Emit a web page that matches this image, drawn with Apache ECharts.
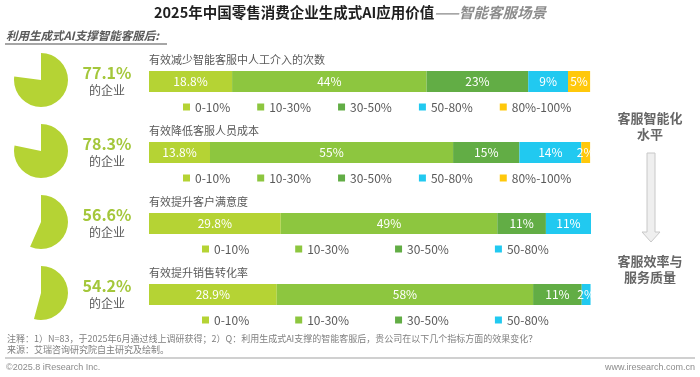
<!DOCTYPE html>
<html>
<head>
<meta charset="utf-8">
<script src="https://cdn.jsdelivr.net/npm/echarts@6/dist/echarts.min.js"></script>
<style>
html,body{margin:0;padding:0;background:#fff;}
#main{width:700px;height:377px;}
</style>
</head>
<body>
<div id="main"></div>
<script>
// 企业占比（饼图）
var pieValues = [77.1, 78.3, 56.6, 54.2];
// 各指标标题
var rowTitles = ['有效减少智能客服中人工介入的次数', '有效降低客服人员成本', '有效提升客户满意度', '有效提升销售转化率'];
// 效果区间
var bands = ['0-10%', '10-30%', '30-50%', '50-80%', '80%-100%'];
var bandColors = ['#b5d334', '#8dc63f', '#62ad45', '#21c9f0', '#ffc80b'];
// 各指标区间占比
var row1 = [18.8, 44, 23, 9, 5];
var row2 = [13.8, 55, 15, 14, 2];
var row3 = [29.8, 49, 11, 11];
var row4 = [28.9, 58, 11, 2];
var rows = [row1, row2, row3, row4];

(function () {
var FONT = "'Noto Sans CJK SC', 'Microsoft YaHei', sans-serif";
var myChart = echarts.init(document.getElementById('main'));

var grids = [], xAxes = [], yAxes = [], series = [], legends = [], graphics = [];

for (var r = 0; r < rows.length; r++) {
    var rowTop = 71 + r * 71;
    grids.push({left: 149, width: 442, top: rowTop, height: 21});
    xAxes.push({gridIndex: r, type: 'value', min: 0, max: 100, show: false});
    yAxes.push({gridIndex: r, type: 'category', data: [''], show: false});

    for (var b = 0; b < rows[r].length; b++) {
        series.push({
            name: bands[b],
            type: 'bar',
            stack: 's' + r,
            xAxisIndex: r,
            yAxisIndex: r,
            barWidth: '100%',
            silent: true,
            data: [rows[r][b]],
            itemStyle: {color: bandColors[b]},
            label: {
                show: true,
                position: 'inside',
                color: '#fff',
                fontSize: 12,
                fontFamily: FONT,
                formatter: '{c}%'
            }
        });
    }

    // 图例
    var n = rows[r].length;
    legends.push({
        data: bands.slice(0, n),
        left: n == 5 ? 183 : 202,
        top: rowTop + 29,
        padding: 0,
        itemWidth: 7,
        itemHeight: 7,
        itemGap: n == 5 ? 27 : 46,
        icon: 'rect',
        selectedMode: false,
        textStyle: {color: '#595959', fontSize: 12, fontFamily: FONT, lineHeight: 14}
    });

    // 指标标题
    graphics.push({
        type: 'text', left: 149, top: rowTop - 17,
        style: {text: rowTitles[r], fill: '#595959', font: '11px ' + FONT}
    });

    // 饼图
    series.push({
        type: 'pie',
        center: [41, 80 + r * 71],
        radius: 27,
        startAngle: 90,
        clockwise: true,
        silent: true,
        label: {show: false},
        labelLine: {show: false},
        data: [
            {value: pieValues[r], itemStyle: {color: '#b5d334'}},
            {value: 100 - pieValues[r], itemStyle: {color: 'rgba(0,0,0,0)'}}
        ]
    });

    graphics.push({
        type: 'text', x: 107, y: 73 + r * 71,
        style: {text: pieValues[r] + '%', fill: '#a4c73b', font: 'bold 16px ' + FONT, textAlign: 'center', textVerticalAlign: 'middle'}
    });
    graphics.push({
        type: 'text', x: 107, y: 90 + r * 71,
        style: {text: '的企业', fill: '#595959', font: '12px ' + FONT, textAlign: 'center', textVerticalAlign: 'middle'}
    });
}

// 副标题
graphics.push({
    type: 'text', x: 6, y: 36,
    style: {text: '利用生成式AI支撑智能客服后:', fill: '#595959', font: 'italic bold 11.5px ' + FONT, textVerticalAlign: 'middle'}
});
graphics.push({
    type: 'line', shape: {x1: 5, y1: 44, x2: 167, y2: 44},
    style: {stroke: '#a6a6a6', lineWidth: 2}
});

// 右侧说明
graphics.push({
    type: 'text', x: 650, y: 126,
    style: {text: '客服智能化\n水平', fill: '#666', font: 'bold 13px ' + FONT, textAlign: 'center', textVerticalAlign: 'middle', lineHeight: 16}
});
graphics.push({
    type: 'polygon',
    shape: {points: [[647, 153], [655, 153], [655, 232], [660, 232], [651, 242], [642, 232], [647, 232]]},
    style: {fill: '#efefef', stroke: '#c8c8c8', lineWidth: 1}
});
graphics.push({
    type: 'text', x: 650, y: 269,
    style: {text: '客服效率与\n服务质量', fill: '#666', font: 'bold 13px ' + FONT, textAlign: 'center', textVerticalAlign: 'middle', lineHeight: 16}
});

// 注释与来源
graphics.push({
    type: 'text', x: 7, y: 339,
    style: {text: '注释：1）N=83，于2025年6月通过线上调研获得；2）Q：利用生成式AI支撑的智能客服后，贵公司在以下几个指标方面的效果变化？', fill: '#7f7f7f', font: '9px ' + FONT, textVerticalAlign: 'middle'}
});
graphics.push({
    type: 'text', x: 7, y: 350,
    style: {text: '来源：艾瑞咨询研究院自主研究及绘制。', fill: '#7f7f7f', font: '9px ' + FONT, textVerticalAlign: 'middle'}
});
graphics.push({
    type: 'line', shape: {x1: 5, y1: 358, x2: 695, y2: 358},
    style: {stroke: '#c0c0c0', lineWidth: 1.5}
});
graphics.push({
    type: 'text', x: 6, y: 368,
    style: {text: '©2025.8 iResearch Inc.', fill: '#8c8c8c', font: '9px "Liberation Sans", Arial, sans-serif', textVerticalAlign: 'middle'}
});
graphics.push({
    type: 'text', x: 695, y: 368,
    style: {text: 'www.iresearch.com.cn', fill: '#8c8c8c', font: '9px "Liberation Sans", Arial, sans-serif', textAlign: 'right', textVerticalAlign: 'middle'}
});

var option = {
    animation: false,
    textStyle: {fontFamily: FONT},
    title: {
        text: '{a|2025年中国零售消费企业生成式AI应用价值}{b|——智能客服场景}',
        left: 'center',
        top: 5,
        padding: 0,
        textStyle: {
            rich: {
                a: {fontSize: 14.5, fontWeight: 'bold', color: '#1f1f1f', fontFamily: FONT},
                b: {fontSize: 14.5, fontStyle: 'italic', color: '#8c8c8c', fontFamily: FONT}
            }
        }
    },
    legend: legends,
    grid: grids,
    xAxis: xAxes,
    yAxis: yAxes,
    series: series,
    graphic: graphics
};

myChart.setOption(option);
})();
</script>
</body>
</html>
